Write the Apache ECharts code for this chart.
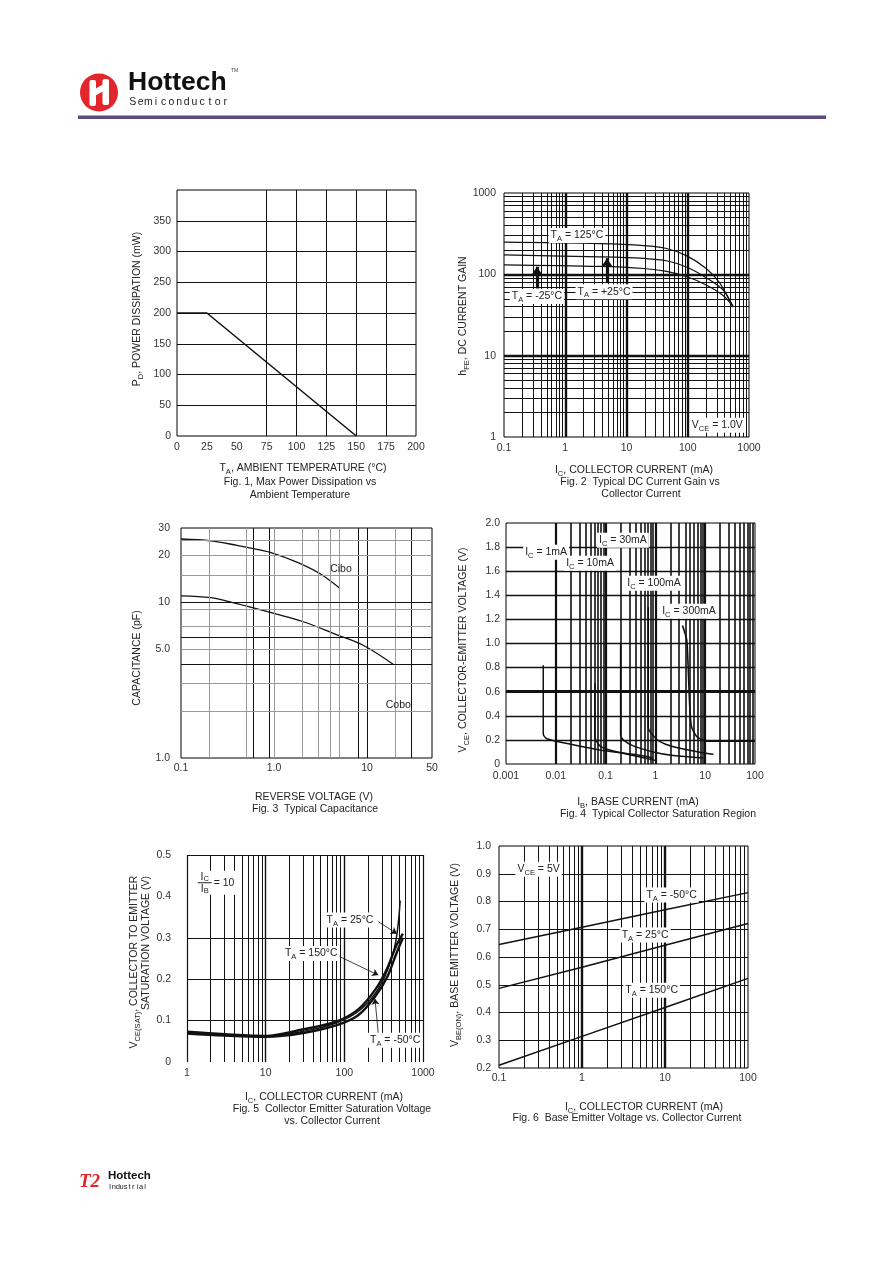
<!DOCTYPE html>
<html lang="en">
<head>
<meta charset="utf-8">
<title>Hottech - typical characteristics</title>
<script src="https://cdn.jsdelivr.net/npm/echarts@6.0.0/dist/echarts.min.js"></script>
<style>
  html, body { margin: 0; padding: 0; background: #fff; overflow: hidden; }
  #sheet { width: 892px; height: 1261px; }
</style>
</head>
<body>
<div id="sheet"></div>
<script>
// Fig. 1 - max power dissipation vs ambient temperature
const f1TempC = [0, 25, 150];
const f1PowerMw = [200, 200, 0];
const f1XTicks = [0, 25, 50, 75, 100, 125, 150, 175, 200];
const f1YTicks = [0, 50, 100, 150, 200, 250, 300, 350];

// Fig. 2 - DC current gain vs collector current (Vce = 1.0V)
const f2IcHot = [0.1, 3.7, 19, 45, 95, 200, 334, 487, 551];
const f2Hfe125 = [249, 239, 226, 208, 170, 118, 78, 47, 40];
const f2Ic = [0.1, 3.7, 19, 45, 95, 200, 378, 551];
const f2Hfe25 = [173, 164, 157, 147, 123, 91, 64, 40];
const f2HfeM25 = [131, 125, 118, 109, 94, 74, 55, 40];
const f2XTicks = [0.1, 1, 10, 100, 1000];
const f2XLabels = ['0.1', '1', '10', '100', '1000'];
const f2YTicks = [1, 10, 100, 1000];
const f2YLabels = ['1', '10', '100', '1000'];

// Fig. 3 - capacitance vs reverse voltage
const f3VrCibo = [0.1, 0.21, 0.4, 0.6, 0.91, 1.76, 3.1, 5.1];
const f3Cibo = [25.5, 24.8, 23.2, 22.1, 20.9, 18.1, 15.3, 12.3];
const f3VrCobo = [0.1, 0.21, 0.37, 0.6, 0.91, 2.07, 4.7, 9.1, 19.1];
const f3Cobo = [11.0, 10.7, 9.9, 9.2, 8.6, 7.5, 6.2, 5.3, 4.0];
const f3XTicks = [0.1, 1, 10, 50];
const f3XLabels = ['0.1', '1.0', '10', '50'];
const f3YTicks = [1, 5, 10, 20, 30];
const f3YLabels = ['1.0', '5.0', '10', '20', '30'];

// Fig. 4 - collector saturation region, Vce vs Ib
const f4Ib1 = [0.0056, 0.0056, 0.0066, 0.017, 0.077, 0.36, 0.9];
const f4Vce1 = [0.82, 0.25, 0.21, 0.17, 0.116, 0.08, 0.05];
const f4Ib10 = [0.061, 0.061, 0.077, 0.12, 0.36, 1.0];
const f4Vce10 = [0.67, 0.226, 0.15, 0.116, 0.07, 0.03];
const f4Ib30 = [0.2, 0.2, 0.227, 0.36, 0.9, 2.3, 9.2];
const f4Vce30 = [1.0, 0.24, 0.2, 0.15, 0.1, 0.07, 0.05];
const f4Ib100 = [0.72, 0.72, 0.84, 1.24, 2.3, 7.8, 14.6];
const f4Vce100 = [1.3, 0.3, 0.25, 0.185, 0.143, 0.097, 0.08];
const f4Ib300 = [3.5, 4.26, 4.6, 4.9, 5.3, 6.8, 10.8, 36, 100];
const f4Vce300 = [1.15, 1.03, 0.75, 0.475, 0.31, 0.226, 0.19, 0.19, 0.19];
const f4XTicks = [0.001, 0.01, 0.1, 1, 10, 100];
const f4XLabels = ['0.001', '0.01', '0.1', '1', '10', '100'];

// Fig. 5 - Vce(sat) vs Ic, Ic/Ib = 10
const f5Ic25 = [1, 3, 10, 30, 80, 150, 250, 350, 450, 513];
const f5V25 = [0.071, 0.066, 0.063, 0.074, 0.095, 0.122, 0.167, 0.22, 0.29, 0.39];
const f5Ic = [1, 3, 10, 30, 80, 150, 250, 350, 450, 555];
const f5V150 = [0.073, 0.067, 0.063, 0.079, 0.098, 0.127, 0.176, 0.226, 0.278, 0.31];
const f5VM50 = [0.069, 0.064, 0.061, 0.07, 0.089, 0.113, 0.16, 0.205, 0.258, 0.30];
const f5XTicks = [1, 10, 100, 1000];
const f5XLabels = ['1', '10', '100', '1000'];

// Fig. 6 - Vbe(on) vs Ic, Vce = 5V
const f6Ic = [0.1, 1, 10, 100];
const f6VM50 = [0.645, 0.707, 0.77, 0.832];
const f6V25 = [0.487, 0.563, 0.642, 0.721];
const f6V150 = [0.21, 0.314, 0.418, 0.523];
const f6XTicks = [0.1, 1, 10, 100];
const f6XLabels = ['0.1', '1', '10', '100'];

const FONT = '"Liberation Sans", Arial, Helvetica, sans-serif';
const INK = '#111';
const GRAY = '#9a9a9a';

const chart = echarts.init(document.getElementById('sheet'), null, { width: 892, height: 1261 });

function pairs(xs, ys) { return xs.map((x, i) => [x, ys[i]]); }

function lookup(ticks, labels) {
  return function (v) {
    for (let i = 0; i < ticks.length; i++) {
      if (Math.abs(ticks[i] - v) <= Math.abs(ticks[i]) * 1e-6 + 1e-9) return labels[i];
    }
    return '';
  };
}

function axis(g, type, min, max, ticks, labels, margin, extra) {
  const a = {
    gridIndex: g, type: type, min: min, max: max,
    axisLine: { show: false }, axisTick: { show: false }, splitLine: { show: false },
    axisLabel: {
      margin: margin, color: '#333', fontFamily: FONT, fontSize: 10.5,
      showMinLabel: true, showMaxLabel: true, formatter: lookup(ticks, labels)
    }
  };
  if (type === 'log') a.logBase = 10;
  if (extra && extra.interval) a.interval = extra.interval;
  if (extra && extra.custom) a.axisLabel.customValues = ticks;
  return a;
}

// grid lines on a log axis: 2..9 in every decade
function minors(min, max) {
  const out = [];
  for (let e = Math.round(Math.log10(min)); Math.pow(10, e) < max; e++) {
    for (let k = 2; k <= 9; k++) {
      const v = +(k * Math.pow(10, e)).toPrecision(6);
      if (v < max) out.push(v);
    }
  }
  return out;
}
function vl(vals, color, width) { return vals.map(v => ({ xAxis: v, lineStyle: { color: color, width: width, type: 'solid' } })); }
function hl(vals, color, width) { return vals.map(v => ({ yAxis: v, lineStyle: { color: color, width: width, type: 'solid' } })); }

function gridLines(g, lines) {
  return {
    type: 'line', xAxisIndex: g, yAxisIndex: g, data: [], silent: true, animation: false, z: 1,
    markLine: {
      silent: true, animation: false, symbol: ['none', 'none'], label: { show: false },
      lineStyle: { type: 'solid' }, data: lines
    }
  };
}

function arrows(g, segs, width, size) {
  return {
    type: 'line', xAxisIndex: g, yAxisIndex: g, data: [], silent: true, animation: false, z: 4,
    markLine: {
      silent: true, animation: false, symbol: ['none', 'arrow'], symbolSize: size, label: { show: false },
      lineStyle: { type: 'solid', color: INK, width: width },
      data: segs.map(s => [{ coord: s[0] }, { coord: s[1] }])
    }
  };
}

function curve(g, xs, ys, width, smooth) {
  return {
    type: 'line', xAxisIndex: g, yAxisIndex: g, data: pairs(xs, ys),
    showSymbol: false, symbol: 'none', smooth: smooth, silent: true, animation: false, z: 3,
    lineStyle: { color: INK, width: width }
  };
}

const box = { show: true, borderColor: '#000', borderWidth: 1, backgroundColor: 'transparent' };

chart.setOption({
  backgroundColor: '#fff',
  animation: false,
  grid: [
    Object.assign({ left: 177, top: 190, width: 239, height: 246 }, box),
    Object.assign({ left: 504, top: 193, width: 245, height: 244 }, box),
    Object.assign({ left: 181, top: 528, width: 251, height: 230 }, box),
    Object.assign({ left: 506, top: 523, width: 249, height: 241 }, box),
    { left: 187, top: 855, width: 236, height: 207, show: false },
    Object.assign({ left: 499, top: 846, width: 249, height: 222 }, box)
  ],
  xAxis: [
    axis(0, 'value', 0, 200, f1XTicks, f1XTicks.map(String), 6, { interval: 25 }),
    axis(1, 'log', 0.1, 1000, f2XTicks, f2XLabels, 6),
    axis(2, 'log', 0.1, 50, f3XTicks, f3XLabels, 5),
    axis(3, 'log', 0.001, 100, f4XTicks, f4XLabels, 7),
    axis(4, 'log', 1, 1000, f5XTicks, f5XLabels, 6),
    axis(5, 'log', 0.1, 100, f6XTicks, f6XLabels, 5)
  ],
  yAxis: [
    axis(0, 'value', 0, 400, f1YTicks, f1YTicks.map(String), 6, { interval: 50 }),
    axis(1, 'log', 1, 1000, f2YTicks, f2YLabels, 8),
    axis(2, 'log', 1, 30, f3YTicks, f3YLabels, 11, { custom: true }),
    axis(3, 'value', 0, 2, [0, 0.2, 0.4, 0.6, 0.8, 1, 1.2, 1.4, 1.6, 1.8, 2],
      ['0', '0.2', '0.4', '0.6', '0.8', '1.0', '1.2', '1.4', '1.6', '1.8', '2.0'], 6, { interval: 0.2 }),
    axis(4, 'value', 0, 0.5, [0, 0.1, 0.2, 0.3, 0.4, 0.5], ['0', '0.1', '0.2', '0.3', '0.4', '0.5'], 16, { interval: 0.1 }),
    axis(5, 'value', 0.2, 1.0, [0.2, 0.3, 0.4, 0.5, 0.6, 0.7, 0.8, 0.9, 1.0],
      ['0.2', '0.3', '0.4', '0.5', '0.6', '0.7', '0.8', '0.9', '1.0'], 8, { interval: 0.1 })
  ],
  series: [
    // grids
    gridLines(0, vl([75, 100, 125, 150, 175], INK, 1).concat(hl([50, 100, 150, 200, 250, 300, 350], INK, 1))),
    gridLines(1, vl(minors(0.1, 1000), INK, 1).concat(vl([1, 10, 100], INK, 2.4),
      hl(minors(1, 1000), INK, 1), hl([10, 100], INK, 2.4))),
    gridLines(2, vl([0.2, 0.5, 1, 2, 3, 4, 5, 20], GRAY, 1).concat(vl([0.6, 0.9, 8, 10, 30], INK, 1),
      hl([2, 3, 5, 7, 9, 15, 20, 25], GRAY, 1), hl([4, 6, 10], INK, 1))),
    gridLines(3, vl(minors(0.001, 100), INK, 1.6).concat(vl([0.01, 0.1, 1, 10], INK, 2.2),
      hl([0.2, 0.4, 0.8, 1, 1.2, 1.4, 1.6, 1.8], INK, 1.3), hl([0.6], INK, 3))),
    gridLines(4, vl(minors(1, 1000), INK, 1).concat(vl([10, 100], INK, 1.4),
      hl([0.1, 0.2, 0.3], INK, 1), vl([1, 1000], INK, 1.2), hl([0.5], INK, 1.2))),
    gridLines(5, vl(minors(0.1, 100), INK, 1).concat(vl([1, 10], INK, 2.4),
      hl([0.3, 0.4, 0.5, 0.6, 0.7, 0.8, 0.9], INK, 1))),
    // curves
    curve(0, f1TempC, f1PowerMw, 1.5, false),
    curve(1, f2IcHot, f2Hfe125, 1.2, 0.35),
    curve(1, f2Ic, f2Hfe25, 1.2, 0.35),
    curve(1, f2Ic, f2HfeM25, 1.2, 0.35),
    curve(2, f3VrCibo, f3Cibo, 1.3, 0.35),
    curve(2, f3VrCobo, f3Cobo, 1.3, 0.35),
    curve(3, f4Ib1, f4Vce1, 1.5, 0.25),
    curve(3, f4Ib10, f4Vce10, 1.5, 0.25),
    curve(3, f4Ib30, f4Vce30, 1.5, 0.25),
    curve(3, f4Ib100, f4Vce100, 1.5, 0.25),
    curve(3, f4Ib300, f4Vce300, 1.6, 0.2),
    curve(4, f5Ic25, f5V25, 1.5, 0.35),
    curve(4, f5Ic, f5V150, 2.4, 0.35),
    curve(4, f5Ic, f5VM50, 2.4, 0.35),
    curve(5, f6Ic, f6VM50, 1.5, false),
    curve(5, f6Ic, f6V25, 1.5, false),
    curve(5, f6Ic, f6V150, 1.5, false),
    // arrows
    arrows(1, [[[0.345, 67], [0.345, 124]], [[4.8, 78], [4.8, 158]]], 3.2, 9),
    arrows(4, [[[270, 0.339], [465, 0.31]], [[84, 0.256], [270, 0.21]], [[270, 0.069], [245, 0.153]]], 0.8, 6)
  ]
});

// ---------- text and decoration ----------
function txt(x, y, text, o) {
  o = o || {};
  const size = o.size || 10.5;
  const st = {
    text: text, x: 0, y: 0,
    fill: o.color || '#222',
    fontSize: size, fontFamily: o.family || FONT,
    fontWeight: o.weight || 'normal', fontStyle: o.italic ? 'italic' : 'normal',
    align: o.align || 'center', verticalAlign: o.valign || 'middle',
    textAlign: o.align || 'center', textVerticalAlign: o.valign || 'middle',
    lineHeight: o.lh || 15,
    rich: {
      s: { fontSize: size * 0.72, fontFamily: FONT, fill: o.color || '#222', verticalAlign: 'bottom', lineHeight: 9 }
    }
  };
  if (o.bg) { st.backgroundColor = o.bg; st.padding = o.pad || [0, 2]; }
  return { type: 'text', x: x, y: y, rotation: o.rot || 0, z: 50, silent: true, style: st };
}
function spaced(x0, y, str, step, size, color) {
  return str.split('').map((c, i) => txt(x0 + step * (i + 0.5), y, c, { size: size, color: color, lh: size + 2 }));
}
function P(g, x, y) { return chart.convertToPixel({ gridIndex: g }, [x, y]); }
function note(g, x, y, text, bg) {
  const p = P(g, x, y);
  return txt(p[0], p[1], text, bg ? { bg: '#fff' } : {});
}

const R = Math.PI / 2;
const gfx = [];

// header
gfx.push({ type: 'circle', shape: { cx: 99, cy: 92.5, r: 19 }, style: { fill: '#e3262c' }, z: 50 });
gfx.push({ type: 'rect', shape: { x: 89.5, y: 80, width: 6.5, height: 26, r: 2 }, style: { fill: '#fff' }, z: 51 });
gfx.push({ type: 'rect', shape: { x: 102.5, y: 79, width: 6.5, height: 26, r: 2 }, style: { fill: '#fff' }, z: 51 });
gfx.push({ type: 'polygon', shape: { points: [[95, 89], [103.5, 84], [103.5, 91], [95, 96]] }, style: { fill: '#fff' }, z: 51 });
gfx.push(txt(128, 82.5, 'Hottech', { size: 26.5, weight: 'bold', color: '#111', align: 'left', lh: 30 }));
gfx.push(txt(231, 70.5, 'TM', { size: 5, color: '#444', align: 'left', lh: 6 }));
gfx.push.apply(gfx, spaced(129, 102.5, 'Semiconductor', 7.7, 10.5, '#222'));
gfx.push({ type: 'rect', shape: { x: 78, y: 115.5, width: 748, height: 3.5 }, style: { fill: '#5d4b80' }, z: 50 });

// footer
gfx.push(txt(79, 1182, 'T2', { size: 19, weight: 'bold', italic: true, color: '#e3262c', family: '"Liberation Serif", serif', align: 'left', lh: 22 }));
gfx.push(txt(108, 1176, 'Hottech', { size: 11.5, weight: 'bold', color: '#111', align: 'left', lh: 13 }));
gfx.push.apply(gfx, spaced(108, 1186.5, 'Industrial', 3.9, 7.5, '#222'));

// Fig. 1
gfx.push(txt(137, 309, 'P{s|D}, POWER DISSIPATION (mW)', { rot: R }));
gfx.push(txt(303, 468, 'T{s|A}, AMBIENT TEMPERATURE (°C)'));
gfx.push(txt(300, 482, 'Fig. 1, Max Power Dissipation vs'));
gfx.push(txt(300, 495, 'Ambient Temperature'));

// Fig. 2
gfx.push(txt(463, 316, 'h{s|FE}, DC CURRENT GAIN', { rot: R }));
gfx.push(txt(634, 470, 'I{s|C}, COLLECTOR CURRENT (mA)'));
gfx.push(txt(640, 482, 'Fig. 2  Typical DC Current Gain vs'));
gfx.push(txt(641, 494, 'Collector Current'));
gfx.push(note(1, 1.55, 300, 'T{s|A} = 125°C', true));
gfx.push(note(1, 4.3, 61, 'T{s|A} = +25°C', true));
gfx.push(note(1, 0.345, 53.3, 'T{s|A} = -25°C', true));
gfx.push(note(1, 304, 1.39, 'V{s|CE} = 1.0V', true));

// Fig. 3
gfx.push(txt(137, 658, 'CAPACITANCE (pF)', { rot: R }));
gfx.push(txt(314, 797, 'REVERSE VOLTAGE (V)'));
gfx.push(txt(315, 809, 'Fig. 3  Typical Capacitance'));
gfx.push(note(2, 5.25, 16.4, 'Cibo', false));
gfx.push(note(2, 21.7, 2.2, 'Cobo', false));

// Fig. 4
gfx.push(txt(463, 650, 'V{s|CE}, COLLECTOR-EMITTER VOLTAGE (V)', { rot: R }));
gfx.push(txt(638, 802, 'I{s|B}, BASE CURRENT (mA)'));
gfx.push(txt(658, 814, 'Fig. 4  Typical Collector Saturation Region'));
gfx.push(note(3, 0.0064, 1.757, 'I{s|C} = 1mA', true));
gfx.push(note(3, 0.0487, 1.666, 'I{s|C} = 10mA', true));
gfx.push(note(3, 0.223, 1.857, 'I{s|C} = 30mA', true));
gfx.push(note(3, 0.94, 1.50, 'I{s|C} = 100mA', true));
gfx.push(note(3, 4.73, 1.268, 'I{s|C} = 300mA', true));

// Fig. 5
gfx.push(txt(134, 962, 'V{s|CE(SAT)}, COLLECTOR TO EMITTER', { rot: R }));
gfx.push(txt(146, 943, 'SATURATION VOLTAGE (V)', { rot: R }));
gfx.push(txt(324, 1097, 'I{s|C}, COLLECTOR CURRENT (mA)'));
gfx.push(txt(332, 1109, 'Fig. 5  Collector Emitter Saturation Voltage'));
gfx.push(txt(332, 1121, 'vs. Collector Current'));
const fr = P(4, 1.68, 0.433);
gfx.push({ type: 'rect', shape: { x: fr[0] - 12, y: fr[1] - 12, width: 46, height: 24 }, style: { fill: '#fff' }, z: 49 });
gfx.push(txt(fr[0], fr[1] - 6, 'I{s|C}', { lh: 12 }));
gfx.push({ type: 'rect', shape: { x: fr[0] - 7, y: fr[1] - 0.5, width: 14, height: 1 }, style: { fill: '#222' }, z: 50 });
gfx.push(txt(fr[0], fr[1] + 6, 'I{s|B}', { lh: 12 }));
gfx.push(txt(fr[0] + 9, fr[1] + 0.5, '= 10', { align: 'left' }));
gfx.push(note(4, 118, 0.343, 'T{s|A} = 25°C', true));
gfx.push(note(4, 38, 0.262, 'T{s|A} = 150°C', true));
gfx.push(note(4, 443, 0.0525, 'T{s|A} = -50°C', true));

// Fig. 6
gfx.push(txt(455, 955, 'V{s|BE(ON)}, BASE EMITTER VOLTAGE (V)', { rot: R }));
gfx.push(txt(644, 1107, 'I{s|C}, COLLECTOR CURRENT (mA)'));
gfx.push(txt(627, 1118, 'Fig. 6  Base Emitter Voltage vs. Collector Current'));
gfx.push(note(5, 0.30, 0.916, 'V{s|CE} = 5V', true));
gfx.push(note(5, 12, 0.823, 'T{s|A} = -50°C', true));
gfx.push(note(5, 5.76, 0.679, 'T{s|A} = 25°C', true));
gfx.push(note(5, 6.9, 0.48, 'T{s|A} = 150°C', true));

chart.setOption({ graphic: { elements: gfx } });
</script>
</body>
</html>
